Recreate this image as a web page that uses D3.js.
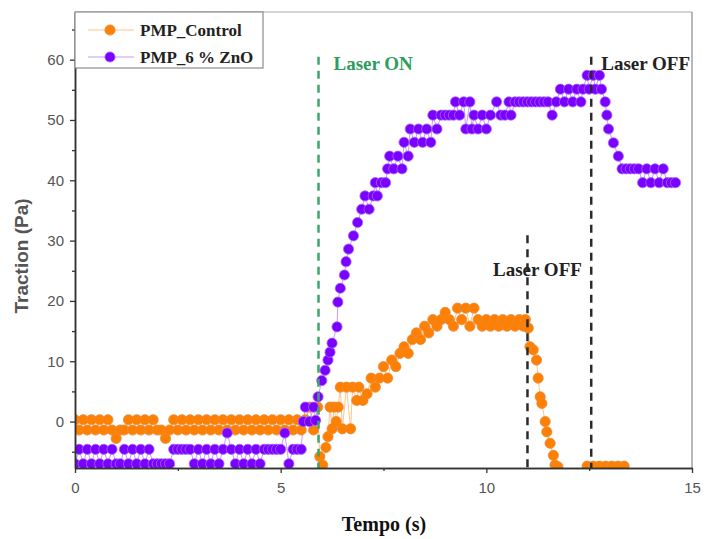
<!DOCTYPE html>
<html>
<head>
<meta charset="utf-8">
<script src="https://cdn.jsdelivr.net/npm/d3@7"></script>
<style>
  body { margin: 0; background: #fff; }
  svg { display: block; }
</style>
</head>
<body>
<div id="chart"></div>
<script>
'use strict';

// series: [tempo (s), traction (Pa)]
var controlPoints = [
  [0, 0.3], [0.1, -1.4], [0.2, 0.3], [0.3, -1.4], [0.4, 0.3], [0.5, -1.4], [0.6, 0.3], [0.7, -1.4], [0.8, 0.3], [0.9, -1.4],
  [1.0, -2.8], [1.1, -1.4], [1.2, -1.4], [1.3, 0.3], [1.4, -1.4], [1.5, 0.3], [1.6, -1.4], [1.7, 0.3], [1.8, -1.4], [1.9, 0.3],
  [2.0, -1.4], [2.1, -1.4], [2.2, -2.8], [2.3, -1.4], [2.4, 0.3], [2.5, -1.4], [2.6, 0.3], [2.7, -1.4], [2.8, 0.3], [2.9, -1.4],
  [3.0, 0.3], [3.1, -1.4], [3.2, 0.3], [3.3, -1.4], [3.4, 0.3], [3.5, -1.4], [3.6, 0.3], [3.7, -1.4], [3.8, 0.3], [3.9, -1.4],
  [4.0, 0.3], [4.1, -1.4], [4.2, 0.3], [4.3, -1.4], [4.4, 0.3], [4.5, -1.4], [4.6, 0.3], [4.7, -1.4], [4.8, 0.3], [4.9, -1.4],
  [5.0, 0.3], [5.1, -1.4], [5.2, 0.3], [5.3, -1.4], [5.4, 0.3], [5.5, -1.4], [5.6, 0.3], [5.7, 2.4], [5.8, -1.4], [5.9, 2.4],
  [5.95, -5.8], [6.02, -7.2], [6.1, -4.3], [6.15, -2.5], [6.2, 2.4], [6.25, -1.2], [6.3, 2.4], [6.35, 0], [6.4, 2.4], [6.45, 5.7],
  [6.5, -1.2], [6.6, 5.7], [6.7, -1.2], [6.75, 5.7], [6.85, 3.5], [6.9, 5.7], [7.0, 3.5], [7.1, 4.6], [7.2, 7.2], [7.3, 5.7],
  [7.4, 7.2], [7.5, 9.1], [7.6, 7.2], [7.7, 10.2], [7.8, 9.1], [7.9, 11.3], [8.0, 12.4], [8.1, 11.3], [8.2, 13.6], [8.3, 14.7],
  [8.4, 13.6], [8.5, 15.8], [8.6, 14.7], [8.7, 16.9], [8.8, 15.8], [8.9, 16.9], [9.0, 18.1], [9.1, 16.9], [9.2, 15.8], [9.3, 18.8],
  [9.4, 16.9], [9.5, 18.8], [9.6, 15.8], [9.7, 18.8], [9.8, 16.9], [9.9, 15.8], [10.0, 16.9], [10.1, 15.8], [10.2, 16.9], [10.3, 15.8],
  [10.4, 16.9], [10.5, 15.8], [10.6, 16.9], [10.7, 15.8], [10.8, 16.9], [10.9, 15.8], [10.95, 16.9], [11.02, 15.5], [11.06, 12.4], [11.14, 11.9],
  [11.22, 10.2], [11.26, 7.2], [11.31, 4.1], [11.35, 3], [11.43, 0], [11.47, -1.7], [11.55, -3.6], [11.63, -5.6], [11.67, -7.2], [11.74, -7.5],
  [11.85, -8.6], [12.0, -8.6], [12.2, -8.6], [12.4, -8.6], [12.45, -7.4], [12.6, -7.4], [12.75, -7.4], [12.9, -7.4], [13.05, -7.4], [13.2, -7.4],
  [13.35, -7.4]
];

var znoPoints = [
  [0, -7], [0.1, -4.6], [0.2, -7], [0.3, -4.6], [0.4, -7], [0.5, -4.6], [0.6, -7], [0.7, -4.6], [0.8, -7], [0.9, -4.6],
  [1.0, -7], [1.1, -7], [1.2, -4.6], [1.3, -7], [1.4, -4.6], [1.5, -7], [1.6, -4.6], [1.7, -7], [1.8, -4.6], [1.9, -7],
  [2.0, -7], [2.1, -7], [2.2, -7], [2.3, -7], [2.4, -4.6], [2.5, -4.6], [2.6, -4.6], [2.7, -4.6], [2.8, -4.6], [2.9, -7],
  [3.0, -4.6], [3.1, -7], [3.2, -4.6], [3.3, -7], [3.4, -4.6], [3.5, -7], [3.6, -4.6], [3.7, -1.9], [3.8, -4.6], [3.9, -7],
  [4.0, -4.6], [4.1, -7], [4.2, -4.6], [4.3, -7], [4.4, -4.6], [4.5, -7], [4.6, -4.6], [4.7, -4.6], [4.8, -4.6], [4.9, -4.6],
  [5.0, -4.6], [5.1, -1.9], [5.2, -7], [5.3, -4.6], [5.4, -4.6], [5.5, -4.6], [5.55, 0], [5.6, 2.4], [5.7, 0], [5.8, 2.4],
  [5.85, 0.2], [5.91, 4.1], [6.0, 6.8], [6.08, 8.5], [6.15, 10.2], [6.2, 11.5], [6.25, 13], [6.37, 15.7], [6.39, 19.8], [6.45, 22.1],
  [6.55, 24.3], [6.59, 26.5], [6.65, 28.6], [6.77, 30.8], [6.87, 33], [6.97, 35.2], [7.05, 37.4], [7.15, 35.2], [7.25, 37.4], [7.3, 39.6],
  [7.35, 37.4], [7.45, 39.6], [7.55, 39.6], [7.6, 41.9], [7.65, 44], [7.75, 41.9], [7.85, 44], [7.95, 41.9], [8.0, 46.3], [8.1, 44],
  [8.15, 48.5], [8.25, 46.3], [8.35, 48.5], [8.45, 46.3], [8.55, 48.5], [8.65, 46.3], [8.7, 50.8], [8.8, 48.5], [8.9, 50.8], [9.0, 50.8],
  [9.1, 50.8], [9.2, 50.8], [9.25, 53], [9.35, 50.8], [9.45, 53], [9.5, 48.5], [9.6, 53], [9.65, 48.5], [9.7, 50.8], [9.8, 48.5],
  [9.9, 50.8], [10.0, 48.5], [10.1, 50.8], [10.25, 53], [10.35, 50.8], [10.45, 50.8], [10.55, 53], [10.6, 50.8], [10.7, 53], [10.8, 53],
  [10.9, 53], [11.0, 53], [11.1, 53], [11.2, 53], [11.3, 53], [11.4, 53], [11.5, 53], [11.6, 50.8], [11.7, 53], [11.8, 55.1],
  [11.9, 53], [12.0, 55.1], [12.1, 53], [12.2, 55.1], [12.3, 53], [12.35, 55.1], [12.45, 57.4], [12.5, 55.1], [12.6, 57.4], [12.65, 55.1],
  [12.75, 57.4], [12.8, 55.1], [12.89, 53], [12.93, 50.8], [12.97, 48.5], [13.09, 46.2], [13.21, 44], [13.3, 41.9], [13.4, 41.9], [13.5, 41.9],
  [13.6, 41.9], [13.7, 41.9], [13.8, 39.6], [13.9, 41.9], [14.0, 39.6], [14.1, 41.9], [14.2, 39.6], [14.3, 41.9], [14.4, 39.6], [14.5, 39.6],
  [14.6, 39.6]
];

var seriesNames = ['PMP_Control', 'PMP_6 % ZnO'];
var xTicks = [0, 5, 10, 15];
var xMinorTicks = [2.5, 7.5, 12.5];
var yTicks = [0, 10, 20, 30, 40, 50, 60];
var yMinorTicks = [-5, 5, 15, 25, 35, 45, 55, 65];
// [tempo (s), top traction (Pa), label]
var laserOn = [5.92, 60.5, 'Laser ON'];
var laserOff = [[11.0, 30.9, 'Laser OFF'], [12.55, 60.5, 'Laser OFF']];

var width = 704,
  height = 539,
  margin = { top: 12, right: 12, bottom: 71, left: 75 },
  serif = '"Liberation Serif", "Times New Roman", serif',
  sans = '"Liberation Sans", Arial, sans-serif',
  r = 5.1;

var x = d3.scaleLinear().domain([0, 15]).range([margin.left, width - margin.right]);
var y = d3.scaleLinear().domain([-7.7, 67.9]).range([height - margin.bottom, margin.top]);

var svg = d3.select('#chart').append('svg')
  .attr('width', width)
  .attr('height', height);

svg.append('clipPath').attr('id', 'plot-clip')
  .append('rect')
  .attr('x', margin.left)
  .attr('y', margin.top)
  .attr('width', width - margin.left - margin.right)
  .attr('height', height - margin.top - margin.bottom);

// frame (top and right)
svg.append('line')
  .attr('x1', margin.left).attr('x2', width - margin.right)
  .attr('y1', margin.top).attr('y2', margin.top)
  .attr('stroke', '#c4c4c4').attr('stroke-width', 1.5);
svg.append('line')
  .attr('x1', width - margin.right).attr('x2', width - margin.right)
  .attr('y1', margin.top).attr('y2', height - margin.bottom)
  .attr('stroke', '#a0a0a0').attr('stroke-width', 1.5);

var plot = svg.append('g').attr('clip-path', 'url(#plot-clip)');

var line = d3.line()
  .x(function (d) { return x(d[0]); })
  .y(function (d) { return y(d[1]); });

var series = [
  { data: controlPoints, fill: '#ff8000', stroke: '#e58a3c', line: '#ffc58a' },
  { data: znoPoints, fill: '#7a00ff', stroke: '#a865ff', line: '#c69bff' }
];

series.forEach(function (s) {
  plot.append('path')
    .datum(s.data)
    .attr('fill', 'none')
    .attr('stroke', s.line)
    .attr('stroke-width', 1)
    .attr('d', line);
});

series.forEach(function (s) {
  plot.append('g').selectAll('circle')
    .data(s.data)
    .enter().append('circle')
    .attr('cx', function (d) { return x(d[0]); })
    .attr('cy', function (d) { return y(d[1]); })
    .attr('r', r)
    .attr('fill', s.fill)
    .attr('stroke', s.stroke)
    .attr('stroke-width', 0.8);
});

// laser markers
plot.append('line')
  .attr('x1', x(laserOn[0])).attr('x2', x(laserOn[0]))
  .attr('y1', y(laserOn[1])).attr('y2', height - margin.bottom)
  .attr('stroke', '#3da56b').attr('stroke-width', 2.5)
  .attr('stroke-dasharray', '8,6');
svg.append('text')
  .attr('x', x(laserOn[0]) + 15).attr('y', 70)
  .attr('font-family', serif).attr('font-weight', 'bold').attr('font-size', 19)
  .attr('fill', '#2f9c5c')
  .text(laserOn[2]);

laserOff.forEach(function (d) {
  plot.append('line')
    .attr('x1', x(d[0])).attr('x2', x(d[0]))
    .attr('y1', y(d[1])).attr('y2', height - margin.bottom)
    .attr('stroke', '#2b2b2b').attr('stroke-width', 2.5)
    .attr('stroke-dasharray', '8,6');
});
svg.append('text')
  .attr('x', x(laserOff[0][0]) + 10).attr('y', 276)
  .attr('text-anchor', 'middle')
  .attr('font-family', serif).attr('font-weight', 'bold').attr('font-size', 19)
  .attr('fill', '#222')
  .text(laserOff[0][2]);
svg.append('text')
  .attr('x', x(laserOff[1][0]) + 10).attr('y', 70)
  .attr('font-family', serif).attr('font-weight', 'bold').attr('font-size', 19)
  .attr('fill', '#222')
  .text(laserOff[1][2]);

// axes
function styleAxis(g) {
  g.selectAll('.domain').attr('stroke', '#333').attr('stroke-width', 1.5);
  g.selectAll('.tick line').attr('stroke', '#333').attr('stroke-width', 1.3);
  g.selectAll('.tick text')
    .attr('fill', '#555')
    .attr('font-family', sans)
    .attr('font-size', 15);
}

svg.append('g')
  .attr('transform', 'translate(0,' + (height - margin.bottom) + ')')
  .call(d3.axisBottom(x).tickValues(xTicks).tickSize(5).tickSizeOuter(0).tickPadding(9))
  .call(styleAxis);
svg.append('g')
  .attr('transform', 'translate(0,' + (height - margin.bottom) + ')')
  .call(d3.axisBottom(x).tickValues(xMinorTicks).tickSize(3).tickSizeOuter(0).tickFormat(''))
  .call(styleAxis);

svg.append('g')
  .attr('transform', 'translate(' + margin.left + ',0)')
  .call(d3.axisLeft(y).tickValues(yTicks).tickSize(5).tickSizeOuter(0).tickPadding(6))
  .call(styleAxis);
svg.append('g')
  .attr('transform', 'translate(' + margin.left + ',0)')
  .call(d3.axisLeft(y).tickValues(yMinorTicks).tickSize(3).tickSizeOuter(0).tickFormat(''))
  .call(styleAxis);

// axis titles
svg.append('text')
  .attr('x', 384).attr('y', 531)
  .attr('text-anchor', 'middle')
  .attr('font-family', serif).attr('font-weight', 'bold').attr('font-size', 20)
  .attr('fill', '#111')
  .text('Tempo (s)');
svg.append('text')
  .attr('transform', 'translate(28,256) rotate(-90)')
  .attr('text-anchor', 'middle')
  .attr('font-family', sans).attr('font-weight', 'bold').attr('font-size', 19)
  .attr('fill', '#555')
  .text('Traction (Pa)');

// legend
var legend = svg.append('g');
legend.append('rect')
  .attr('x', margin.left).attr('y', margin.top)
  .attr('width', 188).attr('height', 56)
  .attr('fill', '#fff')
  .attr('stroke', '#8a8a8a').attr('stroke-width', 1.2);

seriesNames.forEach(function (name, i) {
  var s = series[i],
    ly = 30 + i * 27;
  legend.append('line')
    .attr('x1', 88).attr('x2', 134)
    .attr('y1', ly).attr('y2', ly)
    .attr('stroke', s.line).attr('stroke-width', 1.2);
  legend.append('circle')
    .attr('cx', 110).attr('cy', ly).attr('r', r)
    .attr('fill', s.fill).attr('stroke', s.stroke).attr('stroke-width', 0.8);
  legend.append('text')
    .attr('x', 140).attr('y', ly + 6)
    .attr('font-family', serif).attr('font-weight', 'bold').attr('font-size', 17)
    .attr('fill', '#222')
    .text(name);
});
</script>
</body>
</html>
